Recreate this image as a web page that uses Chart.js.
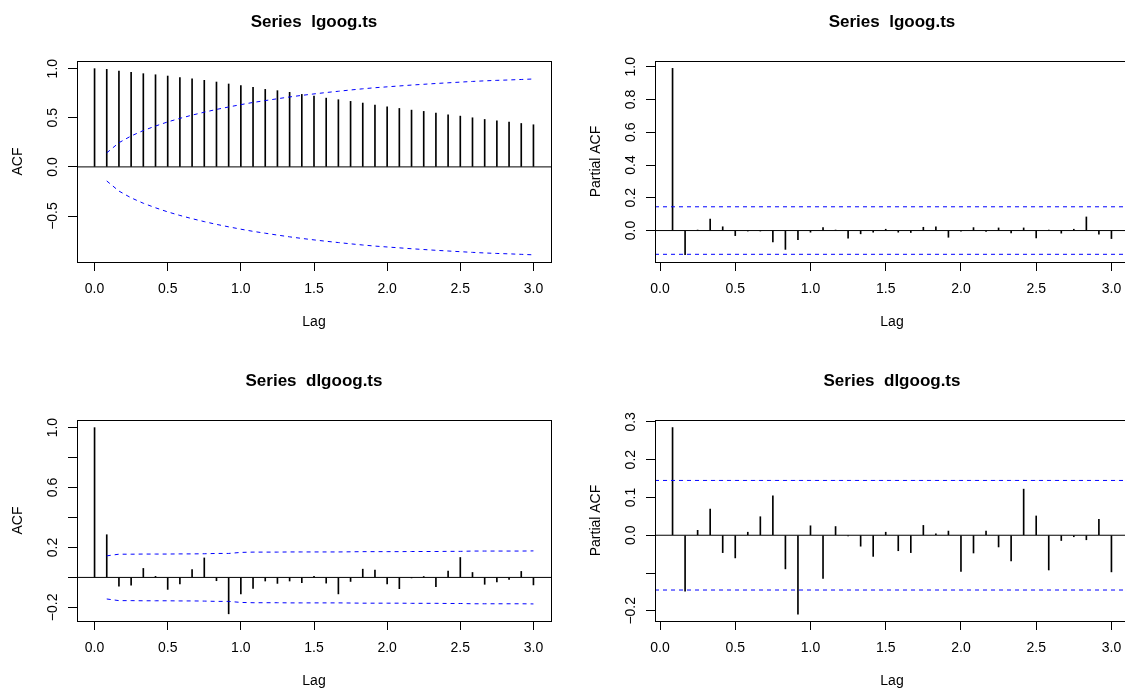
<!DOCTYPE html>
<html><head><meta charset="utf-8">
<script src="https://cdn.jsdelivr.net/npm/chart.js@4.4.1/dist/chart.umd.min.js"></script>
<style>
html,body{margin:0;padding:0;background:#fff;overflow:hidden;width:1125px;height:689px;position:relative;}
canvas{position:absolute;}
</style></head><body>
<canvas id="c1" width="578" height="358" style="left:0;top:0"></canvas>
<canvas id="c2" width="578" height="358" style="left:578px;top:0"></canvas>
<canvas id="c3" width="578" height="358" style="left:0;top:359px"></canvas>
<canvas id="c4" width="578" height="358" style="left:578px;top:359px"></canvas>
<script>
// ---------- data ----------
const FREQ = 12; // monthly series, lag measured in years
const LAG_MONTHS_ACF = [0,1,2,3,4,5,6,7,8,9,10,11,12,13,14,15,16,17,18,19,20,21,22,23,24,25,26,27,28,29,30,31,32,33,34,35,36];
const LAG_MONTHS_PACF = [1,2,3,4,5,6,7,8,9,10,11,12,13,14,15,16,17,18,19,20,21,22,23,24,25,26,27,28,29,30,31,32,33,34,35,36];
const LAG_MONTHS_CI = [1,2,3,4,5,6,7,8,9,10,11,12,13,14,15,16,17,18,19,20,21,22,23,24,25,26,27,28,29,30,31,32,33,34,35,36];

const ACF_LGOOG = [1.000,0.993,0.976,0.962,0.949,0.938,0.925,0.910,0.896,0.881,0.864,0.844,0.827,0.810,0.789,0.776,0.759,0.738,0.721,0.700,0.684,0.667,0.650,0.629,0.612,0.595,0.578,0.565,0.548,0.531,0.517,0.500,0.483,0.469,0.456,0.442,0.429];
const ACF_CI_LGOOG = [0.143,0.246,0.315,0.370,0.416,0.458,0.494,0.527,0.557,0.585,0.610,0.634,0.656,0.675,0.694,0.712,0.728,0.743,0.757,0.770,0.783,0.795,0.806,0.815,0.824,0.833,0.841,0.849,0.856,0.863,0.870,0.876,0.881,0.885,0.890,0.895];

const PACF_LGOOG = [0.990,-0.148,0.002,0.070,0.023,-0.031,-0.003,-0.003,-0.070,-0.115,-0.056,-0.010,0.018,0.003,-0.047,-0.020,-0.010,0.008,-0.010,-0.012,0.020,0.022,-0.041,-0.003,0.018,-0.005,0.016,-0.015,0.016,-0.045,0.002,-0.016,0.008,0.083,-0.022,-0.049];
const PACF_CI_LGOOG = 0.145;

const ACF_DLGOOG = [1.000,0.285,-0.058,-0.051,0.060,0.007,-0.080,-0.044,0.053,0.130,-0.022,-0.243,-0.110,-0.073,-0.024,-0.040,-0.024,-0.035,0.007,-0.038,-0.110,-0.027,0.055,0.049,-0.044,-0.075,-0.002,0.006,-0.062,0.042,0.133,0.033,-0.046,-0.030,-0.013,0.040,-0.050];
const ACF_CI_DLGOOG = [0.144,0.155,0.155,0.156,0.156,0.156,0.157,0.157,0.158,0.160,0.160,0.167,0.169,0.169,0.169,0.170,0.170,0.170,0.170,0.170,0.171,0.172,0.172,0.172,0.172,0.173,0.173,0.173,0.174,0.174,0.176,0.176,0.176,0.176,0.176,0.177];

const PACF_DLGOOG = [0.285,-0.148,0.013,0.069,-0.046,-0.060,0.008,0.049,0.104,-0.089,-0.209,0.025,-0.114,0.023,-0.002,-0.029,-0.056,0.008,-0.041,-0.046,0.026,0.004,0.011,-0.096,-0.047,0.011,-0.031,-0.068,0.122,0.051,-0.092,-0.014,-0.004,-0.012,0.042,-0.097];
const PACF_CI_DLGOOG = 0.145;

// tick values and which of them carry labels
const X_TICKS = [0,0.5,1.0,1.5,2.0,2.5,3.0];
const Y_TICKS_TL = [-0.5,0,0.5,1.0];
const Y_LABELS_TL = [-0.5,0,0.5,1.0];
const Y_TICKS_TR = [0,0.2,0.4,0.6,0.8,1.0];
const Y_LABELS_TR = [0,0.2,0.4,0.6,0.8,1.0];
const Y_TICKS_BL = [-0.2,0,0.2,0.4,0.6,0.8,1.0];
const Y_LABELS_BL = [-0.2,0.2,0.6,1.0];
const Y_TICKS_BR = [-0.2,-0.1,0,0.1,0.2,0.3];
const Y_LABELS_BR = [-0.2,0,0.1,0.2,0.3];

// axis limits
const X_RANGE_ACF = [-0.12, 3.12];
const X_RANGE_PACF = [-0.0333, 3.1167];
const Y_RANGE_TL = [-0.968, 1.078];
const Y_RANGE_TR = [-0.192, 1.035];
const Y_RANGE_BL = [-0.291, 1.051];
const Y_RANGE_BR = [-0.227, 0.305];

// ---------- rendering ----------
Chart.defaults.font.family = '"Liberation Sans", Arial, Helvetica, sans-serif';
Chart.defaults.color = '#000';

const boxPlugin = {
  id: 'box',
  afterDraw(chart) {
    const {ctx, chartArea: a} = chart;
    ctx.save();
    ctx.strokeStyle = '#000';
    ctx.lineWidth = 1;
    ctx.strokeRect(Math.round(a.left) + 0.5, Math.round(a.top) + 0.5, Math.round(a.right - a.left), Math.round(a.bottom - a.top));
    ctx.restore();
  }
};
const hlinePlugin = {
  id: 'hlines',
  afterDatasetsDraw(chart, args, opts) {
    const {ctx, chartArea: a, scales} = chart;
    (opts.lines || []).forEach(l => {
      const py = scales.y.getPixelForValue(l.value);
      ctx.save();
      ctx.strokeStyle = l.color;
      ctx.lineWidth = 1;
      ctx.setLineDash(l.dash || []);
      ctx.beginPath();
      ctx.moveTo(a.left, py);
      ctx.lineTo(a.right, py);
      ctx.stroke();
      ctx.restore();
    });
  }
};

function fmt(v) {
  const r = Math.round(v * 10) / 10;
  return (r < 0 ? '\u2212' : '') + Math.abs(r).toFixed(1);
}

function makePanel(id, spec) {
  const datasets = [{
    type: 'bar',
    data: spec.lags.map((m, i) => ({x: m / FREQ, y: spec.values[i]})),
    backgroundColor: '#000',
    borderWidth: 0,
    barThickness: 1,
    order: 2
  }];
  if (spec.ciLags) {
    datasets.push({
      type: 'line',
      data: spec.ciLags.map((m, i) => ({x: m / FREQ, y: spec.ci[i]})),
      borderColor: '#0000ff', borderWidth: 1, borderDash: [4, 4],
      pointRadius: 0, fill: false, tension: 0, order: 1
    });
    datasets.push({
      type: 'line',
      data: spec.ciLags.map((m, i) => ({x: m / FREQ, y: -spec.ci[i]})),
      borderColor: '#0000ff', borderWidth: 1, borderDash: [4, 4],
      pointRadius: 0, fill: false, tension: 0, order: 1
    });
  }
  const lines = [{value: 0, color: '#000', dash: []}];
  if (spec.ciConst) {
    lines.push({value: spec.ciConst, color: '#0000ff', dash: [4, 4]});
    lines.push({value: -spec.ciConst, color: '#0000ff', dash: [4, 4]});
  }
  new Chart(document.getElementById(id), {
    type: 'bar',
    data: {datasets},
    plugins: [boxPlugin, hlinePlugin],
    options: {
      responsive: false,
      animation: false,
      events: [],
      layout: {padding: {left: 0, top: 0, right: 27, bottom: 27}},
      plugins: {
        legend: {display: false},
        tooltip: {enabled: false},
        title: {
          display: true, text: spec.title, fullSize: false, color: '#000',
          font: {size: 17, weight: 'bold'},
          padding: {top: 12, bottom: 28.6}
        },
        hlines: {lines}
      },
      scales: {
        x: {
          type: 'linear', min: spec.xRange[0], max: spec.xRange[1], offset: false,
          grid: {display: true, drawOnChartArea: false, drawTicks: true, tickLength: 9, color: '#000', offset: false},
          border: {display: true, color: '#000'},
          ticks: {autoSkip: false, minRotation: 0, maxRotation: 0, padding: 10, font: {size: 14}, color: '#000',
                  callback: v => fmt(v)},
          afterBuildTicks: s => { s.ticks = X_TICKS.map(v => ({value: v})); },
          afterFit: s => { s.height = 69; },
          title: {display: true, text: 'Lag', font: {size: 14}, color: '#000', padding: {top: 0, bottom: 0}}
        },
        y: {
          type: 'linear', min: spec.yRange[0], max: spec.yRange[1],
          grid: {display: true, drawOnChartArea: false, drawTicks: true, tickLength: 9, color: '#000'},
          border: {display: true, color: '#000'},
          ticks: {autoSkip: false, minRotation: 90, maxRotation: 90, crossAlign: 'center', padding: spec.yPad,
                  font: {size: 14}, color: '#000',
                  callback: v => spec.yLabels.some(l => Math.abs(l - v) < 1e-9) ? fmt(v) : ''},
          afterBuildTicks: s => { s.ticks = spec.yTicks.map(v => ({value: v})); },
          afterFit: s => { s.width = 77; },
          title: {display: true, text: spec.yTitle, font: {size: 14}, color: '#000', padding: {top: 10, bottom: 0}}
        }
      }
    }
  });
}

makePanel('c1', {title: 'Series  lgoog.ts', yTitle: 'ACF', lags: LAG_MONTHS_ACF, values: ACF_LGOOG,
  ciLags: LAG_MONTHS_CI, ci: ACF_CI_LGOOG, xRange: X_RANGE_ACF, yRange: Y_RANGE_TL,
  yTicks: Y_TICKS_TL, yLabels: Y_LABELS_TL, yPad: 1.2});
makePanel('c2', {title: 'Series  lgoog.ts', yTitle: 'Partial ACF', lags: LAG_MONTHS_PACF, values: PACF_LGOOG,
  ciConst: PACF_CI_LGOOG, xRange: X_RANGE_PACF, yRange: Y_RANGE_TR,
  yTicks: Y_TICKS_TR, yLabels: Y_LABELS_TR, yPad: 5.3});
makePanel('c3', {title: 'Series  dlgoog.ts', yTitle: 'ACF', lags: LAG_MONTHS_ACF, values: ACF_DLGOOG,
  ciLags: LAG_MONTHS_CI, ci: ACF_CI_DLGOOG, xRange: X_RANGE_ACF, yRange: Y_RANGE_BL,
  yTicks: Y_TICKS_BL, yLabels: Y_LABELS_BL, yPad: 1.2});
makePanel('c4', {title: 'Series  dlgoog.ts', yTitle: 'Partial ACF', lags: LAG_MONTHS_PACF, values: PACF_DLGOOG,
  ciConst: PACF_CI_DLGOOG, xRange: X_RANGE_PACF, yRange: Y_RANGE_BR,
  yTicks: Y_TICKS_BR, yLabels: Y_LABELS_BR, yPad: 1.2});
</script>
</body></html>
